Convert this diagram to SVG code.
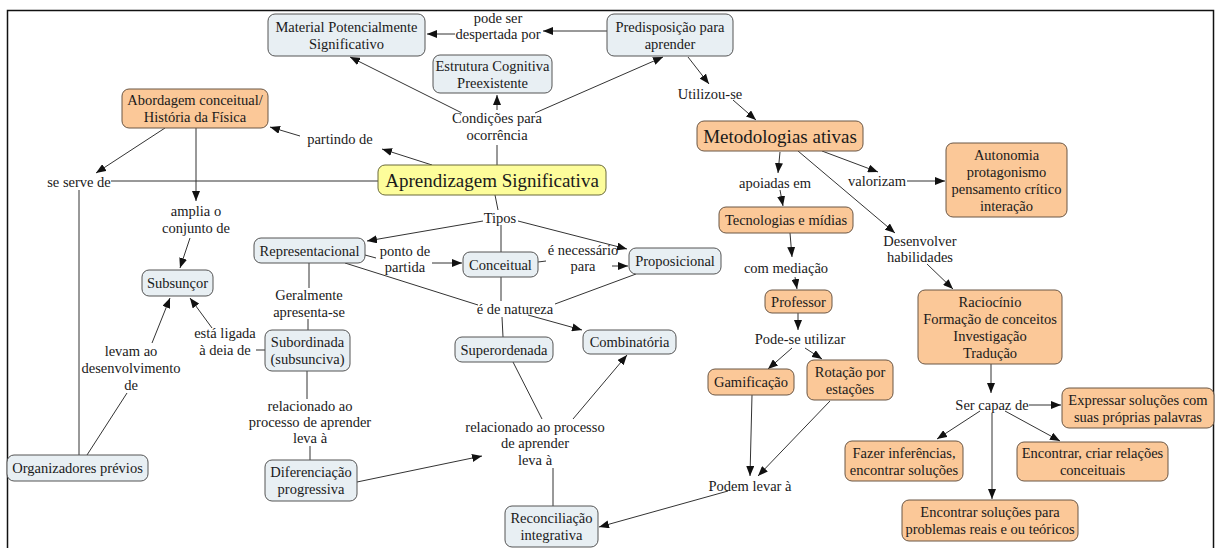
<svg xmlns="http://www.w3.org/2000/svg" width="1219" height="548" viewBox="0 0 1219 548">
<style>
text{font-family:"Liberation Serif","Times New Roman",serif;font-size:14.5px;fill:#1a1a1a;text-anchor:middle}
.big{font-size:19px}
rect.b{fill:#e8eff3;stroke:#555;stroke-width:1}
rect.o{fill:#fbc898;stroke:#6b5644;stroke-width:1}
rect.y{fill:#fdfd9b;stroke:#6b6b3a;stroke-width:1}
#links path{fill:none;stroke:#333;stroke-width:1}
#links path.a{marker-end:url(#ah)}
</style>
<defs>
<marker id="ah" viewBox="0 0 10 8" refX="10" refY="4" markerWidth="10" markerHeight="8" orient="auto" markerUnits="userSpaceOnUse"><path d="M0,0 L10,4 L0,8 z" fill="#111"/></marker>
</defs>
<rect x="0" y="0" width="1219" height="548" fill="#fff"/>
<rect x="7.5" y="10.5" width="1206" height="560" fill="none" stroke="#111" stroke-width="1.5"/>
<g id="links">
<path class="a" d="M607,31 L543,31"/>
<path class="a" d="M455,34 L427,34"/>
<path d="M497,165 L497,145"/>
<path class="a" d="M497,110 L497,95"/>
<path class="a" d="M462,113 L350,57"/>
<path class="a" d="M535,113 L663,57"/>
<path class="a" d="M432,165 L382,149"/>
<path class="a" d="M300,136 L270,127"/>
<path class="a" d="M165,128 L96,173"/>
<path d="M378,181 L111,181"/>
<path d="M79,190 L79,455"/>
<path class="a" d="M196,128 L196,201"/>
<path class="a" d="M190,238 L180,268"/>
<path class="a" d="M212,328 L190,298"/>
<path d="M265,350 L256,350"/>
<path class="a" d="M152,343 L170,298"/>
<path d="M87,455 L127,393"/>
<path d="M495,195 L498,210"/>
<path class="a" d="M483,221 L367,241"/>
<path d="M501,225 L501,252"/>
<path class="a" d="M518,221 L627,249"/>
<path d="M365,255 L376,258"/>
<path class="a" d="M432,263 L462,263"/>
<path d="M538,262 L546,261"/>
<path class="a" d="M612,266 L628,266"/>
<path d="M555,304 L636,274"/>
<path d="M345,263 L478,305"/>
<path d="M501,277 L501,301"/>
<path d="M502,317 L503,337"/>
<path class="a" d="M528,315 L582,330"/>
<path d="M309,263 L309,288"/>
<path d="M308,319 L308,330"/>
<path d="M307,371 L307,399"/>
<path d="M310,446 L310,460"/>
<path class="a" d="M357,482 L482,456"/>
<path d="M513,362 L542,419"/>
<path class="a" d="M573,419 L627,355"/>
<path d="M553,468 L553,506"/>
<path class="a" d="M728,491 L599,527"/>
<path class="a" d="M688,57 L709,84"/>
<path class="a" d="M733,100 L756,120"/>
<path class="a" d="M780,152 L778,173"/>
<path class="a" d="M822,151 L878,172"/>
<path class="a" d="M907,181 L945,181"/>
<path class="a" d="M798,151 L895,233"/>
<path class="a" d="M927,264 L953,289"/>
<path class="a" d="M780,190 L783,206"/>
<path class="a" d="M790,233 L792,257"/>
<path class="a" d="M795,277 L797,289"/>
<path class="a" d="M798,313 L798,330"/>
<path class="a" d="M792,348 L768,369"/>
<path class="a" d="M805,348 L822,359"/>
<path class="a" d="M752,395 L750,476"/>
<path class="a" d="M830,401 L758,476"/>
<path class="a" d="M991,364 L991,393"/>
<path class="a" d="M1029,405 L1061,405"/>
<path class="a" d="M980,411 L937,439"/>
<path class="a" d="M1005,411 L1060,441"/>
<path class="a" d="M992,413 L992,499"/>
</g>
<g id="labels" fill="#fff">
<text x="498" y="23">pode ser</text><text x="498" y="39">despertada por</text>
<text x="497" y="123">Condições para</text><text x="497" y="140">ocorrência</text>
<text x="340" y="144">partindo de</text>
<text x="710" y="99">Utilizou-se</text>
<text x="79" y="187">se serve de</text>
<text x="775" y="188">apoiadas em</text>
<text x="877" y="186">valorizam</text>
<text x="196" y="216">amplia o</text><text x="196" y="233">conjunto de</text>
<text x="500" y="223">Tipos</text>
<text x="920" y="246">Desenvolver</text><text x="920" y="262">habilidades</text>
<text x="405" y="256">ponto de</text><text x="405" y="272">partida</text>
<text x="583" y="255">é necessário</text><text x="583" y="271">para</text>
<text x="786" y="273">com mediação</text>
<text x="309" y="300">Geralmente</text><text x="309" y="317">apresenta-se</text>
<text x="515" y="314">é de natureza</text>
<text x="800" y="344">Pode-se utilizar</text>
<text x="225" y="338">está ligada</text><text x="225" y="355">à deia de</text>
<text x="131" y="356">levam ao</text><text x="131" y="373">desenvolvimento</text><text x="131" y="390">de</text>
<text x="310" y="411">relacionado ao</text><text x="310" y="427">processo de aprender</text><text x="310" y="443">leva à</text>
<text x="535" y="432">relacionado ao processo</text><text x="535" y="448">de aprender</text><text x="535" y="465">leva à</text>
<text x="992" y="410">Ser capaz de</text>
<text x="750" y="491">Podem levar à</text>
</g>
<g id="n1"><rect class="b" x="268" y="14" width="157" height="42" rx="7"/><text x="346.5" y="31.5">Material Potencialmente</text><text x="346.5" y="48.5">Significativo</text></g>
<g id="n2"><rect class="b" x="607" y="14" width="126" height="42" rx="7"/><text x="670" y="31.5">Predisposição para</text><text x="670" y="48.5">aprender</text></g>
<g id="n3"><rect class="b" x="433" y="55" width="119" height="38" rx="7"/><text x="492.5" y="70.5">Estrutura Cognitiva</text><text x="492.5" y="87.5">Preexistente</text></g>
<g id="n4"><rect class="o" x="122" y="89" width="146" height="39" rx="7"/><text x="195" y="105">Abordagem conceitual/</text><text x="195" y="122">História da Física</text></g>
<g id="n5"><rect class="y" x="378" y="165" width="228" height="30" rx="7"/><text class="big" x="492" y="187">Aprendizagem Significativa</text></g>
<g id="n6"><rect class="o" x="697" y="121" width="166" height="30" rx="7"/><text class="big" x="780" y="143">Metodologias ativas</text></g>
<g id="n7"><rect class="o" x="946" y="143" width="121" height="74" rx="7"/><text x="1006.5" y="160">Autonomia</text><text x="1006.5" y="177">protagonismo</text><text x="1006.5" y="194">pensamento crítico</text><text x="1006.5" y="211">interação</text></g>
<g id="n8"><rect class="o" x="719" y="207" width="134" height="26" rx="7"/><text x="786" y="225">Tecnologias e mídias</text></g>
<g id="n9"><rect class="b" x="629" y="248" width="92" height="26" rx="7"/><text x="675" y="266">Proposicional</text></g>
<g id="n10"><rect class="b" x="463" y="252" width="75" height="25" rx="7"/><text x="500.5" y="269.5">Conceitual</text></g>
<g id="n11"><rect class="b" x="254" y="238" width="111" height="25" rx="7"/><text x="309.5" y="255.5">Representacional</text></g>
<g id="n12"><rect class="b" x="142" y="270" width="71" height="26" rx="7"/><text x="177.5" y="288">Subsunçor</text></g>
<g id="n13"><rect class="b" x="265" y="330" width="85" height="41" rx="7"/><text x="307.5" y="347">Subordinada</text><text x="307.5" y="364">(subsunciva)</text></g>
<g id="n14"><rect class="b" x="455" y="337" width="98" height="25" rx="7"/><text x="504" y="354.5">Superordenada</text></g>
<g id="n15"><rect class="b" x="583" y="330" width="93" height="24" rx="7"/><text x="629.5" y="347">Combinatória</text></g>
<g id="n16"><rect class="b" x="7" y="455" width="141" height="26" rx="7"/><text x="77.5" y="473">Organizadores prévios</text></g>
<g id="n17"><rect class="b" x="265" y="460" width="92" height="41" rx="7"/><text x="311" y="477">Diferenciação</text><text x="311" y="494">progressiva</text></g>
<g id="n18"><rect class="b" x="505" y="506" width="93" height="41" rx="7"/><text x="551.5" y="523">Reconciliação</text><text x="551.5" y="540">integrativa</text></g>
<g id="n19"><rect class="o" x="765" y="290" width="67" height="23" rx="7"/><text x="798.5" y="306.5">Professor</text></g>
<g id="n20"><rect class="o" x="708" y="369" width="86" height="26" rx="7"/><text x="751" y="387">Gamificação</text></g>
<g id="n21"><rect class="o" x="807" y="360" width="86" height="40" rx="7"/><text x="850" y="376.5">Rotação por</text><text x="850" y="393.5">estações</text></g>
<g id="n22"><rect class="o" x="918" y="290" width="144" height="74" rx="7"/><text x="990" y="307">Raciocínio</text><text x="990" y="324">Formação de conceitos</text><text x="990" y="341">Investigação</text><text x="990" y="358">Tradução</text></g>
<g id="n23"><rect class="o" x="1062" y="388" width="152" height="40" rx="7"/><text x="1138" y="404.5">Expressar soluções com</text><text x="1138" y="421.5">suas próprias palavras</text></g>
<g id="n24"><rect class="o" x="845" y="441" width="118" height="40" rx="7"/><text x="904" y="457.5">Fazer inferências,</text><text x="904" y="474.5">encontrar soluções</text></g>
<g id="n25"><rect class="o" x="1017" y="442" width="151" height="39" rx="7"/><text x="1092.5" y="458">Encontrar, criar relações</text><text x="1092.5" y="475">conceituais</text></g>
<g id="n26"><rect class="o" x="902" y="500" width="176" height="41" rx="7"/><text x="990" y="517">Encontrar soluções para</text><text x="990" y="534">problemas reais e ou teóricos</text></g>
</svg>
